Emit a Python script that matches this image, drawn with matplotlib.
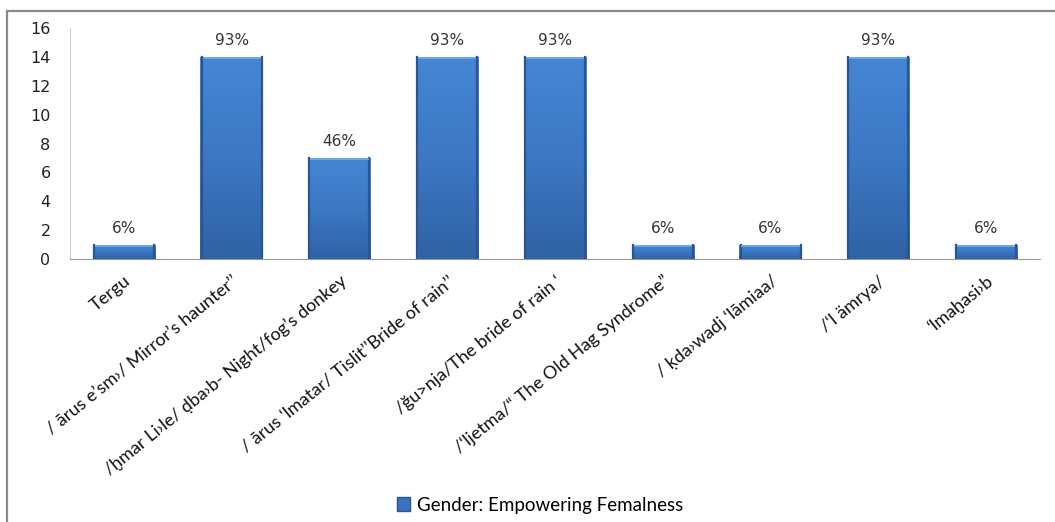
import numpy as np
import matplotlib.pyplot as plt
from matplotlib.patches import Rectangle
from matplotlib.lines import Line2D
from matplotlib.colors import LinearSegmentedColormap

categories = [
    "Tergu",
    "/ ārus e\u2019sm\u203a/ Mirror\u2019s haunter\u2019\u2019",
    "/ḫmar Li\u203ale/ ḍba\u203ab- Night/fog\u2019s donkey",
    "/ ārus \u2018lmatar/ Tislit\u2019\u2019Bride of rain\u2019\u2019",
    "/ğu>nja/The bride of rain \u2018",
    "/\u2018ljetma/\u201c The Old Hag Syndrome\u201d",
    "/ ḳda\u203awadj \u2018lāmiaa/",
    "/\u2018l ämrya/",
    "\u2018lmaḫasi\u203ab",
]
counts = [1, 14, 7, 14, 14, 1, 1, 14, 1]
pct_labels = ["6%", "93%", "46%", "93%", "93%", "6%", "6%", "93%", "6%"]
series_name = "Gender: Empowering Femalness"

W, H = 1055, 522
fig = plt.figure(figsize=(W / 100, H / 100), dpi=100)

# chart frame: only the top and left edges fall inside the image
fig.add_artist(Line2D([7 / W, 1], [1 - 10.5 / H, 1 - 10.5 / H], transform=fig.transFigure,
                      color="#8a8a8a", linewidth=1.6))
fig.add_artist(Line2D([7 / W, 7 / W], [0, 1 - 10.5 / H], transform=fig.transFigure,
                      color="#8a8a8a", linewidth=1.6))

ax = fig.add_axes([70 / W, 1 - 259 / H, 970 / W, 231 / H])
x = np.arange(len(categories))
width = 0.58

bars = ax.bar(x, counts, width=width, color="#3a72bd", edgecolor="none", zorder=2)

# vertical shading plus a bevelled rim on each bar
cmap = LinearSegmentedColormap.from_list("barshade", ["#2f63a5", "#3c78c4", "#4586d4"])
grad = np.linspace(0, 1, 64).reshape(-1, 1)
for b in bars:
    x0, w, h = b.get_x(), b.get_width(), b.get_height()
    im = ax.imshow(grad, cmap=cmap, aspect="auto", extent=(x0, x0 + w, 0, h),
                   origin="lower", zorder=3, interpolation="bicubic")
    im.set_clip_path(b)
    ax.plot([x0 + 0.012, x0 + 0.012], [0, h], color="#2a5590", linewidth=1.6, zorder=4)
    ax.plot([x0 + w - 0.012, x0 + w - 0.012], [0, h], color="#2a5590", linewidth=1.6, zorder=4)
    ax.plot([x0 + 0.02, x0 + w - 0.02], [h - 0.1, h - 0.1], color="#6fa6e6",
            linewidth=1.4, zorder=4, solid_capstyle="butt")

for xi, c, lab in zip(x, counts, pct_labels):
    ax.text(xi, c + 0.6, lab, ha="center", va="bottom", fontsize=11,
            color="#333333", family="DejaVu Sans")

ax.set_xlim(-0.5, len(categories) - 0.5)
ax.set_ylim(0, 16)
ax.set_yticks(range(0, 17, 2))
ax.tick_params(axis="y", length=0, pad=14, labelsize=11.5, labelcolor="#222222")
ax.tick_params(axis="x", length=0, pad=10)
ax.set_xticks(x)
ax.set_xticklabels(categories, rotation=39, ha="right", va="top", rotation_mode="anchor",
                   fontsize=13, family="Lato", color="#111111")

for s in ["top", "right"]:
    ax.spines[s].set_visible(False)
ax.spines["left"].set_color("#d0d0d0")
ax.spines["bottom"].set_color("#999999")

handle = Rectangle((0, 0), 1, 1, facecolor="#3a72bd", edgecolor="#2a5590")
fig.legend([handle], [series_name], loc="center", bbox_to_anchor=(540 / W, 1 - 505 / H),
           frameon=False, handlelength=0.7, handleheight=0.7, handletextpad=0.35,
           prop={"family": "Lato", "size": 13.5})

fig.savefig("out.png", dpi=100)
